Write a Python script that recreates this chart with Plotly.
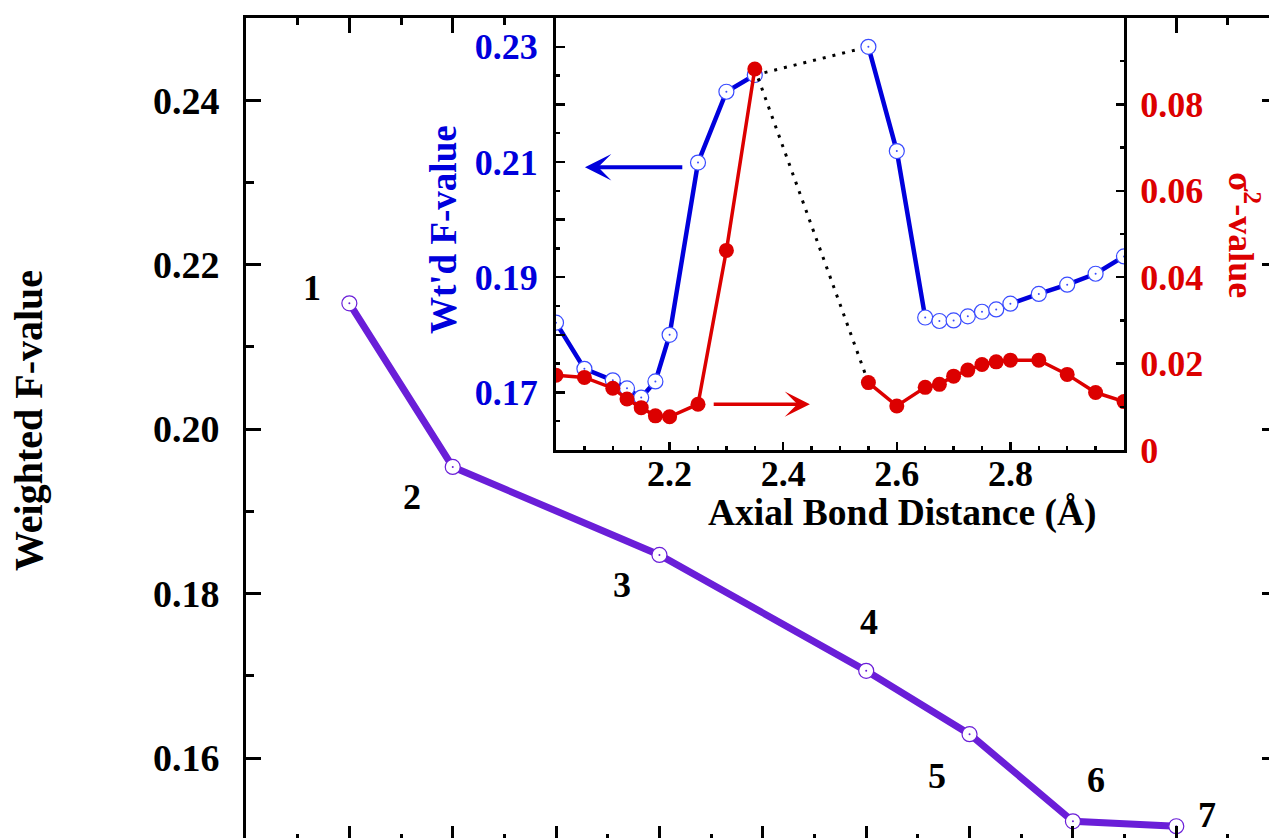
import plotly.graph_objects as go

# ---------------- data ----------------
# main chart: model number vs weighted F-value
model_pos = [1, 2, 4, 6, 7, 8, 9]
model_fval = [0.2153, 0.1954, 0.1847, 0.1706, 0.1629, 0.1523, 0.1517]
model_labels = ["1", "2", "3", "4", "5", "6", "7"]

# inset: axial bond distance scan (short-bond branch and long-bond branch)
dist_short = [2.0, 2.05, 2.1, 2.125, 2.15, 2.175, 2.2, 2.25, 2.3, 2.35]
wf_short = [0.1821, 0.1741, 0.1721, 0.1707, 0.1691, 0.1719, 0.1800, 0.2099, 0.2222, 0.2251]
sig_short = [0.0173, 0.0168, 0.0143, 0.0118, 0.0098, 0.0079, 0.0077, 0.0106, 0.0462, 0.0882]

dist_long = [2.55, 2.6, 2.65, 2.675, 2.7, 2.725, 2.75, 2.775, 2.8, 2.85, 2.9, 2.95, 3.0]
wf_long = [0.2300, 0.2119, 0.1830, 0.1824, 0.1825, 0.1832, 0.1840, 0.1844, 0.1854, 0.1871, 0.1887, 0.1906, 0.1936]
sig_long = [0.0156, 0.0102, 0.0145, 0.0152, 0.0171, 0.0185, 0.0198, 0.0204, 0.0208, 0.0208, 0.0175, 0.0133, 0.0112]

main_yticks = [0.16, 0.18, 0.20, 0.22, 0.24]
inset_xticks = [2.2, 2.4, 2.6, 2.8]
inset_lticks = [0.17, 0.18, 0.19, 0.20, 0.21, 0.22, 0.23]
inset_lticktext = ["0.17", "", "0.19", "", "0.21", "", "0.23"]
inset_rticks = [0, 0.02, 0.04, 0.06, 0.08]
inset_rticktext = ["0", "0.02", "0.04", "0.06", "0.08"]

# ---------------- styles ----------------
FONT = "Liberation Serif"
PURPLE = "#6A1ED8"
BLUE = "#0000DC"
RED = "#DC0000"
label_dx = [-37, -41, -37, 3, -33, 23, 31]
label_dy = [15, -30, -30, 49, -42, 41, 11]

W, H = 1269, 838
L, R, T, B = 246, 0, 18, 0
PW, PH = W - L - R, H - T - B


def px_x(px):
    return (px - L) / PW


def px_y(py):
    return (H - B - py) / PH


fig = go.Figure()

# main series
fig.add_trace(go.Scatter(
    x=model_pos, y=model_fval, mode="lines+markers",
    line=dict(color=PURPLE, width=7),
    marker=dict(symbol="circle", size=15, color="white",
                line=dict(color=PURPLE, width=1.2)),
    xaxis="x", yaxis="y", hoverinfo="skip"))
fig.add_trace(go.Scatter(
    x=model_pos, y=model_fval, mode="markers",
    marker=dict(size=2, color=PURPLE), xaxis="x", yaxis="y", hoverinfo="skip"))
# dummy trace for overlay axes
fig.add_trace(go.Scatter(x=[], y=[], xaxis="x2", yaxis="y2", hoverinfo="skip"))

# inset dotted connector (F branch)
fig.add_trace(go.Scatter(
    x=[dist_short[-1], dist_long[0]], y=[wf_short[-1], wf_long[0]], mode="lines",
    line=dict(color="black", width=3, dash="3px,7px"),
    xaxis="x3", yaxis="y3", hoverinfo="skip"))

# inset blue (weighted F)
for xs, ys in ((dist_short, wf_short), (dist_long, wf_long)):
    fig.add_trace(go.Scatter(
        x=xs, y=ys, mode="lines+markers",
        line=dict(color=BLUE, width=4.5),
        marker=dict(symbol="circle", size=15, color="white",
                    line=dict(color="#3A4CFF", width=1.2)),
        xaxis="x3", yaxis="y3", hoverinfo="skip"))
    fig.add_trace(go.Scatter(
        x=xs, y=ys, mode="markers", marker=dict(size=2, color="#3A4CFF"),
        xaxis="x3", yaxis="y3", hoverinfo="skip"))

# inset dotted connector (sigma branch)
fig.add_trace(go.Scatter(
    x=[dist_short[-1], dist_long[0]], y=[sig_short[-1], sig_long[0]], mode="lines",
    line=dict(color="black", width=3, dash="3px,7px"),
    xaxis="x3", yaxis="y4", hoverinfo="skip"))
# inset red (sigma^2)
for xs, ys in ((dist_short, sig_short), (dist_long, sig_long)):
    fig.add_trace(go.Scatter(
        x=xs, y=ys, mode="lines+markers",
        line=dict(color=RED, width=3.5),
        marker=dict(symbol="circle", size=15, color=RED),
        xaxis="x3", yaxis="y4", hoverinfo="skip"))

tickfont = dict(family=FONT, size=38, color="black", weight="bold")
insetfont = dict(family=FONT, size=36, color="black", weight="bold")

main_x = dict(range=[0, 9.897], showgrid=False, zeroline=False,
              showticklabels=False, fixedrange=True)
fig.update_layout(
    width=W, height=H, margin=dict(l=L, r=R, t=T, b=B, autoexpand=False),
    plot_bgcolor="white", paper_bgcolor="white", showlegend=False,
    xaxis=dict(**main_x, anchor="y", showline=False, ticks="inside", ticklen=12,
               tickwidth=3, tickcolor="black", dtick=1, tick0=0,
               minor=dict(ticks="inside", ticklen=4, tickwidth=3, tickcolor="black",
                          dtick=0.5, tick0=0)),
    xaxis2=dict(**main_x, overlaying="x", anchor="y", side="top", showline=True,
                linewidth=3, linecolor="black", ticks="inside", ticklen=15,
                tickwidth=3, tickcolor="black", dtick=1, tick0=0,
                minor=dict(ticks="inside", ticklen=7, tickwidth=3, tickcolor="black",
                           dtick=0.5, tick0=0)),
    yaxis=dict(range=[0.15027, 0.25], anchor="x", showgrid=False, zeroline=False,
               showline=True, linewidth=3, linecolor="black", ticks="inside",
               ticklen=15, tickwidth=3, tickcolor="black",
               tickvals=main_yticks, ticktext=[f"{v:.2f}" for v in main_yticks],
               tickfont=tickfont, ticklabelstandoff=16,
               minor=dict(ticks="inside", ticklen=8, tickwidth=3, tickcolor="black",
                          dtick=0.01, tick0=0.15), fixedrange=True),
    yaxis2=dict(range=[0.15027, 0.25], overlaying="y", anchor="x", side="right",
                showgrid=False, zeroline=False, showline=False, ticks="inside",
                ticklen=7, tickwidth=3, tickcolor="black", tickvals=main_yticks,
                showticklabels=False, fixedrange=True),
    xaxis3=dict(domain=[px_x(556), px_x(1124)], anchor="y3", range=[2.0, 3.0],
                showgrid=False, zeroline=False, showline=True, linewidth=3,
                linecolor="black", ticks="inside", ticklen=8, tickwidth=2.5,
                tickcolor="black", tickvals=inset_xticks,
                ticktext=[f"{v:.1f}" for v in inset_xticks], tickfont=insetfont,
                ticklabelstandoff=-10,
                minor=dict(ticks="inside", ticklen=4, tickwidth=2.5, tickcolor="black",
                           dtick=0.05, tick0=2.0), fixedrange=True),
    yaxis3=dict(domain=[px_y(450), 1.0], anchor="x3", range=[0.16, 0.235],
                showgrid=False, zeroline=False, showline=True, linewidth=3,
                linecolor="black", ticks="inside", ticklen=9, tickwidth=2.5,
                tickcolor="black", tickvals=inset_lticks, ticktext=inset_lticktext,
                tickfont=dict(family=FONT, size=36, color=BLUE, weight="bold"),
                ticklabelstandoff=8,
                minor=dict(ticks="inside", ticklen=4, tickwidth=2.5, tickcolor="black",
                           dtick=0.005, tick0=0.16), fixedrange=True),
    yaxis4=dict(overlaying="y3", anchor="x3", side="right", range=[0, 0.1],
                showgrid=False, zeroline=False, showline=True, linewidth=3,
                linecolor="black", ticks="inside", ticklen=8, tickwidth=2.5,
                tickcolor="black", tickvals=inset_rticks, ticktext=inset_rticktext,
                tickfont=dict(family=FONT, size=36, color=RED, weight="bold"),
                ticklabelstandoff=6,
                minor=dict(ticks="inside", ticklen=4, tickwidth=2.5, tickcolor="black",
                           dtick=0.01, tick0=0), fixedrange=True),
)

annots = []
# point labels
for xv, yv, t, dx, dy in zip(model_pos, model_fval, model_labels, label_dx, label_dy):
    annots.append(dict(x=xv, y=yv, xref="x", yref="y", text=t, showarrow=False,
                       xshift=dx, yshift=dy, xanchor="center", yanchor="middle",
                       font=dict(family=FONT, size=36, color="black", weight="bold")))
# titles
center = dict(xref="paper", yref="paper", showarrow=False,
              xanchor="center", yanchor="middle")
annots.append(dict(x=px_x(28), y=px_y(421), text="Weighted F-value", textangle=-90,
                   font=dict(family=FONT, size=40, color="black", weight="bold"),
                   **center))
annots.append(dict(x=px_x(443), y=px_y(230), text="Wt'd F-value", textangle=-90,
                   font=dict(family=FONT, size=37, color=BLUE, weight="bold"),
                   **center))
annots.append(dict(x=px_x(1244), y=px_y(235), text="σ<sup>2</sup>-value", textangle=90,
                   font=dict(family=FONT, size=36, color=RED, weight="bold"),
                   **center))
annots.append(dict(x=px_x(902), y=px_y(513), text="Axial Bond Distance (Å)",
                   font=dict(family=FONT, size=37.5, color="black", weight="bold"),
                   **center))
# arrows pointing to the relevant axes
annots.append(dict(x=2.051, y=0.2091, ax=2.225, ay=0.2091, xref="x3", yref="y3",
                   axref="x3", ayref="y3", text="", showarrow=True, arrowhead=3,
                   arrowsize=1.1, arrowwidth=4, arrowcolor=BLUE, standoff=0))
annots.append(dict(x=2.447, y=0.0106, ax=2.275, ay=0.0106, xref="x3", yref="y4",
                   axref="x3", ayref="y4", text="", showarrow=True, arrowhead=3,
                   arrowsize=1.2, arrowwidth=3.5, arrowcolor=RED, standoff=0))
fig.update_layout(annotations=annots)

fig.write_html("out.html", config={"displayModeBar": False, "staticPlot": True})
